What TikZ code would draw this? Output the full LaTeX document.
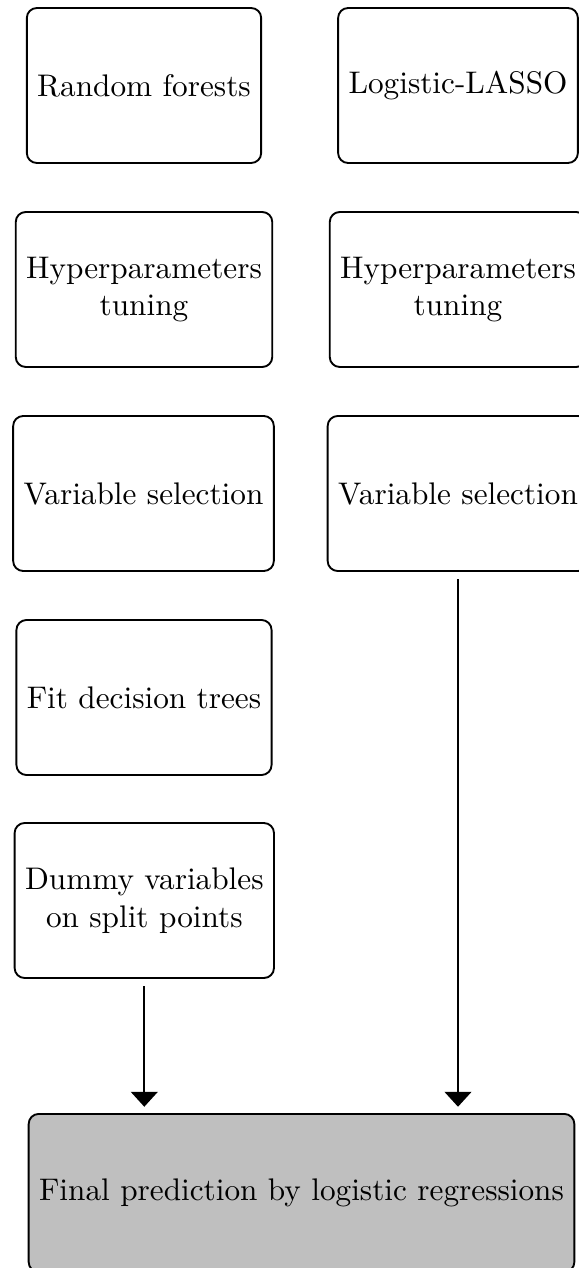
\documentclass[tikz,border=0pt]{standalone}
\usetikzlibrary{arrows.meta}
\begin{document}
\begin{tikzpicture}[x=0.32pt,y=-0.32pt,
  box/.style={draw, line width=0.6pt, rounded corners=3.2pt, align=center,
    minimum height=49.6pt, font=\fontsize{10pt}{12pt}\selectfont},
  finalbox/.style={box, fill=black!25, minimum height=50.6pt},
  arr/.style={line width=0.6pt, -{Triangle[width=8.6pt,length=4.8pt]},
    shorten <=2.4pt, shorten >=2pt}]
\useasboundingbox (0,0) rectangle (579,1268);
\node[box] (rf) at (144,85.5) {Random forests};
\node[box] (lasso) at (458,85.5) {Logistic-LASSO};
\node[box] (hp1) at (144,289.5) {Hyperparameters\\tuning};
\node[box] (hp2) at (458,289.5) {Hyperparameters\\tuning};
\node[box] (vs1) at (143.5,493.5) {Variable selection};
\node[box] (vs2) at (458,493.5) {Variable selection};
\node[box] (fdt) at (144,697.5) {Fit decision trees};
\node[box] (dum) at (144.3,900.5) {Dummy variables\\on split points};
\node[finalbox] (final) at (301.5,1193) {Final prediction by logistic regressions};
\draw[arr] (dum.south) -- (dum.south |- final.north);
\draw[arr] (vs2.south) -- (vs2.south |- final.north);
\end{tikzpicture}
\end{document}
